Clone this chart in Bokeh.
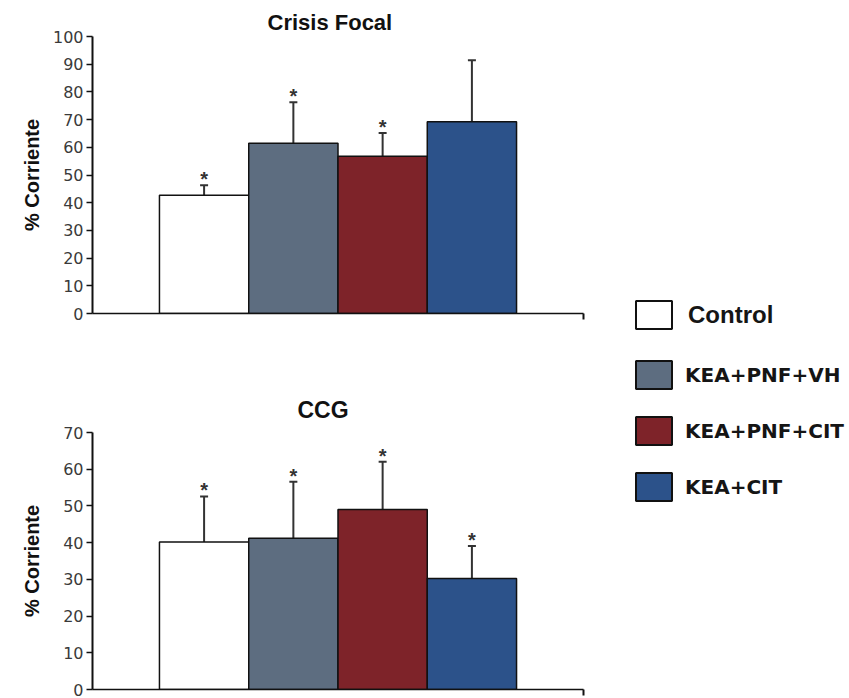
from bokeh.plotting import figure
from bokeh.models import ColumnDataSource, Whisker, TeeHead, FixedTicker, Legend, LegendItem, Range1d
from bokeh.layouts import row, column
from bokeh.embed import file_html
from bokeh.resources import INLINE
from bokeh.core.properties import value

# ---- data ----
groups = ["Control", "KEA+PNF+VH", "KEA+PNF+CIT", "KEA+CIT"]
colors = ["#FFFFFF", "#5D6D80", "#7E2329", "#2C528A"]
positions = [1, 2, 3, 4]

focal_title = "Crisis Focal"
focal_mean = [42.7, 61.5, 56.8, 69.2]
focal_upper = [46.3, 76.3, 65.2, 91.4]
focal_marks = ["*", "*", "*", ""]
focal_ticks = [0, 10, 20, 30, 40, 50, 60, 70, 80, 90, 100]

ccg_title = "CCG"
ccg_mean = [40.2, 41.2, 49.0, 30.2]
ccg_upper = [52.6, 56.6, 62.0, 39.1]
ccg_marks = ["*", "*", "*", "*"]
ccg_ticks = [0, 10, 20, 30, 40, 50, 60, 70]

y_label = "% Corriente"

X_START, X_END = -0.25, 5.25


def make_chart(title, mean, upper, marks, ticks, height, top_border, bottom_border,
               title_standoff, title_offset, title_size, label_standoff):
    p = figure(width=608, height=height, x_range=Range1d(X_START, X_END),
               y_range=Range1d(ticks[0], ticks[-1]), output_backend="svg",
               toolbar_location=None, min_border_left=92, min_border_right=25,
               min_border_top=top_border, min_border_bottom=bottom_border, title=title)
    p.outline_line_color = None
    p.xgrid.visible = False
    p.ygrid.visible = False
    p.title.align = "left"
    p.title.offset = title_offset
    p.title.text_font = "Liberation Sans"
    p.title.text_font_size = title_size
    p.title.text_font_style = "bold"
    p.title.text_color = "#111111"
    p.title.standoff = title_standoff

    src = ColumnDataSource(dict(x=positions, top=mean, upper=upper, mark=marks,
                                color=colors, group=groups))
    p.vbar(x="x", top="top", width=1, fill_color="color", line_color="#111111",
           line_width=1.5, source=src)
    w = Whisker(source=src, base="x", lower="top", upper="upper",
                line_color="#333333", line_width=2,
                upper_head=TeeHead(size=8, line_color="#333333", line_width=2),
                lower_head=None)
    p.add_layout(w)
    p.text(x="x", y="upper", text="mark", source=src, text_align="center",
           text_baseline="alphabetic", y_offset=-6, text_font=value("Liberation Sans"),
           text_font_size="20px", text_font_style="bold", text_color="#333333")

    ya = p.yaxis[0]
    ya.ticker = FixedTicker(ticks=ticks)
    ya.minor_tick_line_color = None
    ya.major_tick_out = 6
    ya.major_tick_in = 0
    ya.axis_line_width = 2
    ya.axis_line_color = "#111111"
    ya.major_tick_line_width = 1.5
    ya.major_tick_line_color = "#111111"
    ya.major_label_text_font = "DejaVu Sans"
    ya.major_label_text_font_size = "16px"
    ya.major_label_text_color = "#3a3a3a"
    ya.major_label_standoff = 3
    ya.axis_label = y_label
    ya.axis_label_text_font = "Liberation Sans"
    ya.axis_label_text_font_size = "20px"
    ya.axis_label_text_font_style = "bold"
    ya.axis_label_text_color = "#111111"
    ya.axis_label_standoff = label_standoff

    xa = p.xaxis[0]
    xa.ticker = FixedTicker(ticks=[X_END - 0.001])
    xa.minor_tick_line_color = None
    xa.major_tick_out = 6
    xa.major_tick_in = 0
    xa.major_tick_line_width = 2
    xa.major_tick_line_color = "#111111"
    xa.axis_line_width = 1.5
    xa.axis_line_color = "#111111"
    xa.major_label_text_font_size = "0px"
    xa.major_label_text_alpha = 0
    xa.major_label_standoff = 0
    return p


p1 = make_chart(focal_title, focal_mean, focal_upper, focal_marks, focal_ticks,
                height=362, top_border=36, bottom_border=49, title_standoff=3,
                title_offset=175, title_size="22px", label_standoff=7)
p2 = make_chart(ccg_title, ccg_mean, ccg_upper, ccg_marks, ccg_ticks,
                height=336, top_border=70, bottom_border=9, title_standoff=20,
                title_offset=205, title_size="23px", label_standoff=17)

# ---- legend panel ----
lf = figure(width=241, height=698, output_backend="svg", toolbar_location=None,
            x_axis_location=None, y_axis_location=None, min_border=0)
lf.outline_line_color = None
lf.xgrid.visible = False
lf.ygrid.visible = False
lsrc = ColumnDataSource(dict(x=positions, top=ccg_mean, color=colors, group=groups))
lr = lf.vbar(x="x", top="top", width=1, fill_color="color", line_color="#111111",
             line_width=2, source=lsrc, visible=False)

common = dict(glyph_width=45, glyph_height=35, padding=0, margin=0, spacing=21,
              border_line_color=None, background_fill_alpha=0,
              inactive_fill_alpha=0, label_text_color="#151515")
legA = Legend(items=[LegendItem(label=groups[0], renderers=[lr], index=0)],
              location=(23, 366), label_standoff=12, label_text_font="Liberation Sans",
              label_text_font_size="24px", label_text_font_style="bold", **common)
legB = Legend(items=[LegendItem(label=groups[i], renderers=[lr], index=i) for i in range(1, 4)],
              location=(23, 194), label_standoff=9, label_text_font="DejaVu Sans",
              label_text_font_size="20px", label_text_font_style="bold", **common)
lf.add_layout(legA)
lf.add_layout(legB)

layout = row(column(p1, p2), lf)
open("out.html", "w").write(file_html(layout, INLINE))
